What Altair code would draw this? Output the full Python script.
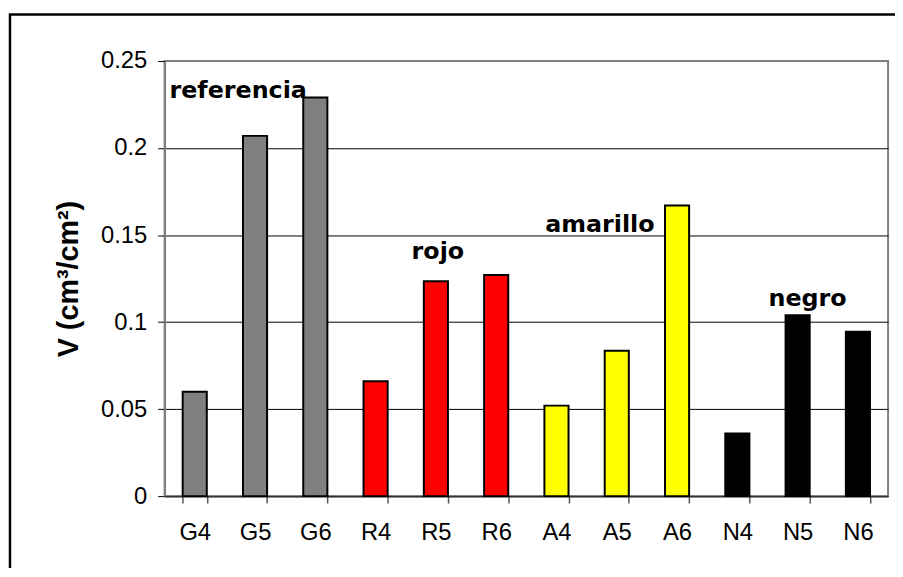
import altair as alt
import pandas as pd

categorias = ["G4", "G5", "G6", "R4", "R5", "R6", "A4", "A5", "A6", "N4", "N5", "N6"]
volumen = [0.060, 0.207, 0.229, 0.066, 0.1235, 0.127, 0.052, 0.0835, 0.167, 0.036, 0.104, 0.0945]
grupo = ["referencia"] * 3 + ["rojo"] * 3 + ["amarillo"] * 3 + ["negro"] * 3
nombres_grupo = ["referencia", "rojo", "amarillo", "negro"]
colores_grupo = ["#808080", "#FF0000", "#FFFF00", "#000000"]

etiquetas = ["referencia", "rojo", "amarillo", "negro"]
etiqueta_cat = ["G5", "R5", "A5", "N5"]
etiqueta_y = [0.229, 0.1364, 0.152, 0.1092]
etiqueta_dx = [-17, 2, -17, 10]

y_ticks = [0, 0.05, 0.1, 0.15, 0.2, 0.25]

df = pd.DataFrame({"cat": categorias, "v": volumen, "grupo": grupo})

x_enc = alt.X(
    "cat:N",
    sort=categorias,
    title=None,
    scale=alt.Scale(paddingInner=0.6, paddingOuter=0.3),
    axis=alt.Axis(
        labelAngle=0,
        labelFont="Liberation Sans",
        labelFontSize=24,
        labelColor="black",
        labelPadding=18,
        tickBand="extent",
        tickSize=7,
        tickColor="#555555",
        tickWidth=1.5,
        domainColor="#333333",
        domainWidth=2,
        grid=False,
    ),
)

y_enc = alt.Y(
    "v:Q",
    title="V (cm³/cm²)",
    scale=alt.Scale(domain=[0, 0.25], nice=False),
    axis=alt.Axis(
        values=y_ticks,
        format="~g",
        labelFont="Liberation Sans",
        labelFontSize=24,
        labelColor="black",
        labelPadding=11,
        tickSize=7,
        tickColor="black",
        domainColor="#808080",
        domainWidth=2,
        grid=True,
        gridColor={"condition": {"test": "datum.value >= 0.25", "value": "#808080"}, "value": "black"},
        gridWidth=1,
        titleFont="Liberation Sans",
        titleFontSize=29,
        titleFontWeight="bold",
        titleColor="black",
        titlePadding=17,
    ),
)

bars = alt.Chart(df).mark_bar(stroke="black", strokeWidth=2).encode(
    x=x_enc,
    y=y_enc,
    color=alt.Color("grupo:N", scale=alt.Scale(domain=nombres_grupo, range=colores_grupo), legend=None),
)

layers = [bars]
for t, c, yv, dx in zip(etiquetas, etiqueta_cat, etiqueta_y, etiqueta_dx):
    tdf = pd.DataFrame({"cat": [c], "v": [yv], "t": [t]})
    layers.append(
        alt.Chart(tdf).mark_text(
            font="DejaVu Sans", fontWeight="bold", fontSize=24, color="black",
            align="center", baseline="alphabetic", dx=dx,
        ).encode(
            x=alt.X("cat:N", sort=categorias),
            y=alt.Y("v:Q"),
            text="t:N",
        )
    )

frame = alt.Chart(pd.DataFrame({"a": [0]})).mark_rect(
    fill="transparent", stroke="black", strokeWidth=2.5
).encode(
    x=alt.value(-156), x2=alt.value(780), y=alt.value(-47), y2=alt.value(620)
)
layers.append(frame)

chart = alt.layer(*layers).properties(
    width=730,
    height=439,
    autosize="none",
    padding={"left": 158, "top": 51, "right": 7, "bottom": 70},
    background="white",
).configure_view(stroke="#808080", strokeWidth=2)

chart.save("out.html", embed_options={"renderer": "svg", "actions": False})
